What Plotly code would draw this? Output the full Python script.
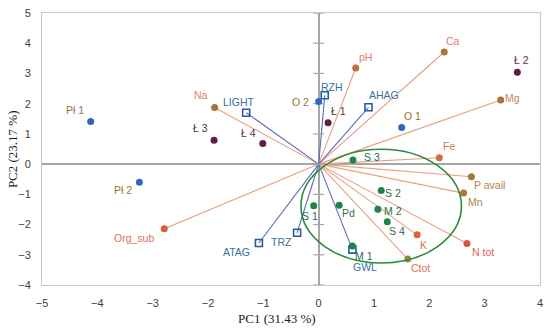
import plotly.graph_objects as go

# ---- data ----
soil_names = ["Na", "pH", "Ca", "Mg", "Fe", "P avail", "Mn", "K", "N tot", "Ctot", "Org_sub"]
soil_x = [-1.88, 0.67, 2.27, 3.29, 2.18, 2.76, 2.62, 1.78, 2.68, 1.61, -2.79]
soil_y = [1.87, 3.18, 3.71, 2.12, 0.21, -0.42, -0.96, -2.34, -2.63, -3.14, -2.14]

env_names = ["LIGHT", "RZH", "AHAG", "GWL", "TRZ", "ATAG"]
env_x = [-1.31, 0.11, 0.90, 0.61, -0.39, -1.08]
env_y = [1.70, 2.28, 1.88, -2.83, -2.27, -2.61]

blue_names = ["Pł 1", "Pł 2", "O 1", "O 2"]
blue_x = [-4.12, -3.24, 1.50, 0.00]
blue_y = [1.41, -0.60, 1.21, 2.07]

lake_names = ["Ł 1", "Ł 2", "Ł 3", "Ł 4"]
lake_x = [0.17, 3.59, -1.89, -1.01]
lake_y = [1.37, 3.04, 0.79, 0.68]

green_names = ["S 1", "S 2", "S 3", "S 4", "M 1", "M 2", "Pd"]
green_x = [-0.09, 1.13, 0.62, 1.24, 0.61, 1.07, 0.37]
green_y = [-1.38, -0.87, 0.14, -1.91, -2.71, -1.49, -1.36]

x_ticks = [-5, -4, -3, -2, -1, 0, 1, 2, 3, 4]
y_ticks = [-4, -3, -2, -1, 0, 1, 2, 3, 4, 5]

# ellipse around S/M/Pd group (center, half-axes)
ell_cx, ell_cy, ell_rx, ell_ry = 1.13, -1.39, 1.45, 1.88

# ---- styles ----
label_offsets = {
    "Pł 1": (-16, 12), "Pł 2": (-16, -8), "Org_sub": (-30, -9), "Na": (-14, 13),
    "LIGHT": (-7, 11), "Ł 3": (-14, 12), "Ł 4": (-14, 11), "O 2": (-18, 0),
    "RZH": (7, 8), "Ł 1": (10, 12), "pH": (10, 11), "AHAG": (16, 12),
    "Ca": (9, 11), "Ł 2": (4, 12), "Mg": (12, 2), "O 1": (11, 12), "Fe": (10, 12),
    "S 3": (19, 3), "P avail": (18, -8), "Mn": (12, -9), "S 2": (12, -3),
    "M 2": (15, -2), "S 4": (10, -9), "K": (6, -10), "N tot": (16, -8),
    "Ctot": (13, -9), "M 1": (12, -10), "GWL": (13, -17), "Pd": (9, -8),
    "S 1": (-4, -10), "TRZ": (-16, -9), "ATAG": (-22, -9),
}
soil_marker_colors = ["#A8743C", "#C0703E", "#B8733A", "#B07040", "#D0703E", "#A07A40",
                      "#B8703A", "#E0603A", "#E0503C", "#9A8A3A", "#D8603C"]
soil_label_colors = ["#E0806A", "#E0806A", "#D9806A", "#D08060", "#D07A55", "#B58148",
                     "#B58148", "#E06A50", "#E06050", "#E07055", "#D87060"]
soil_line = "#E8A080"
env_color = "#2A5A9E"
env_line = "#5A6CB4"
env_label = "#3A6EA5"
blue_dot = "#2F66C0"
blue_label = "#8C7A30"
lake_dot = "#5C1F4A"
lake_label = "#5A3535"
green_dot = "#1E8449"
green_label = "#2E6B4A"
label_font = "Liberation Sans"

fig = go.Figure()

# vectors from origin
for x, y in zip(soil_x, soil_y):
    fig.add_trace(go.Scatter(x=[0, x], y=[0, y], mode="lines",
                             line=dict(color=soil_line, width=1.1), hoverinfo="skip"))
for x, y in zip(env_x, env_y):
    fig.add_trace(go.Scatter(x=[0, x], y=[0, y], mode="lines",
                             line=dict(color=env_line, width=1.1), hoverinfo="skip"))

# tick marks on the vertical zero line
fig.add_trace(go.Scatter(x=[0] * len(y_ticks), y=y_ticks, mode="markers",
                         marker=dict(symbol="line-ew", size=8,
                                     line=dict(color="#A6A6A6", width=1.2)),
                         hoverinfo="skip"))

# markers
fig.add_trace(go.Scatter(x=soil_x, y=soil_y, mode="markers",
                         marker=dict(color=soil_marker_colors, size=7)))
fig.add_trace(go.Scatter(x=env_x, y=env_y, mode="markers",
                         marker=dict(symbol="square-open", color=env_color, size=7,
                                     line=dict(width=1.6))))
fig.add_trace(go.Scatter(x=blue_x, y=blue_y, mode="markers",
                         marker=dict(color=blue_dot, size=7)))
fig.add_trace(go.Scatter(x=lake_x, y=lake_y, mode="markers",
                         marker=dict(color=lake_dot, size=7)))
fig.add_trace(go.Scatter(x=green_x, y=green_y, mode="markers",
                         marker=dict(color=green_dot, size=7)))

# labels
def add_labels(names, xs, ys, colors):
    if isinstance(colors, str):
        colors = [colors] * len(names)
    for n, x, y, c in zip(names, xs, ys, colors):
        dx, dy = label_offsets[n]
        fig.add_annotation(x=x, y=y, text=n, showarrow=False, xshift=dx, yshift=dy,
                           font=dict(family=label_font, size=10.5, color=c))

add_labels(soil_names, soil_x, soil_y, soil_label_colors)
add_labels(env_names, env_x, env_y, env_label)
add_labels(blue_names, blue_x, blue_y, blue_label)
add_labels(lake_names, lake_x, lake_y, lake_label)
add_labels(green_names, green_x, green_y, green_label)

# ellipse
fig.add_shape(type="circle", xref="x", yref="y",
              x0=ell_cx - ell_rx, x1=ell_cx + ell_rx,
              y0=ell_cy - ell_ry, y1=ell_cy + ell_ry,
              line=dict(color="#2E8B3E", width=1.6), layer="above")

# axis titles
fig.add_annotation(xref="paper", yref="paper", x=0.471, y=-0.123, text="PC1 (31.43 %)",
                   showarrow=False, yanchor="middle",
                   font=dict(family="Liberation Serif", size=13, color="#1a1a1a"))
fig.add_annotation(xref="paper", yref="paper", x=-0.06, y=0.5, text="PC2 (23.17 %)",
                   showarrow=False, textangle=-90, xanchor="center",
                   font=dict(family="Liberation Serif", size=13, color="#1a1a1a"))

axis_common = dict(showgrid=False, showline=True, mirror=True, linecolor="#C8C8C8",
                   linewidth=1, zeroline=True, zerolinecolor="#A6A6A6", zerolinewidth=1.5,
                   ticks="outside", ticklen=8, tickcolor="rgba(0,0,0,0)",
                   tickfont=dict(family=label_font, size=11, color="#404040"))

fig.update_xaxes(range=[-5, 4], tickvals=x_ticks, **axis_common)
fig.update_yaxes(range=[-4, 5], tickvals=y_ticks, **axis_common)

fig.update_layout(width=550, height=330, margin=dict(l=42, r=7, t=9, b=45),
                  plot_bgcolor="white", paper_bgcolor="white", showlegend=False,
                  hovermode=False)

fig.write_html("out.html", config={"displayModeBar": False},
               post_script="document.body.style.margin='0';document.body.style.padding='0';")
